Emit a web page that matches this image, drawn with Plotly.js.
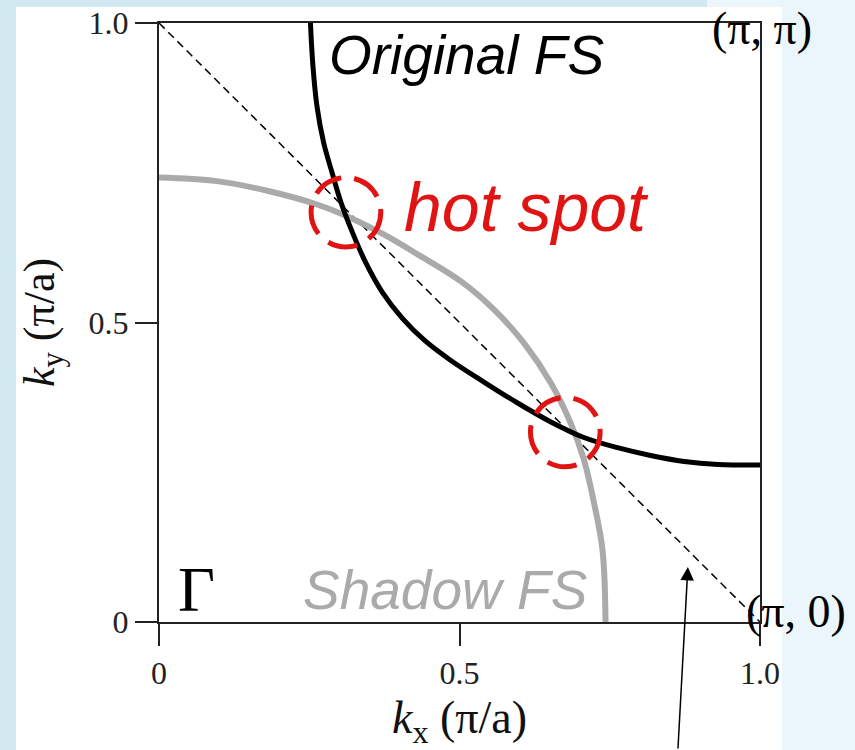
<!DOCTYPE html>
<html>
<head>
<meta charset="utf-8">
<script src="https://cdn.plot.ly/plotly-3.0.1.min.js"></script>
<style>
  html, body { margin: 0; padding: 0; width: 855px; height: 750px; overflow: hidden; background: rgb(235,245,252); }
  .bg { position: absolute; }
  #chart { position: absolute; left: 0; top: 0; width: 855px; height: 750px; }
</style>
</head>
<body>
<div class="bg" style="left:0;top:0;width:707px;height:7px;background:rgb(210,233,241);"></div>
<div class="bg" style="left:0;top:0;width:16px;height:750px;background:rgb(210,233,241);"></div>
<div class="bg" style="left:16px;top:7px;width:766px;height:743px;background:#ffffff;"></div>
<div id="chart"></div>
<script>
// Original Fermi surface (black)
const origKx = [0.252, 0.256, 0.263, 0.274, 0.288, 0.303, 0.322, 0.344, 0.372, 0.405, 0.442, 0.485, 0.540, 0.596, 0.652, 0.707, 0.763, 0.818, 0.874, 0.930, 1.0];
const origKy = [1.0, 0.93, 0.86, 0.80, 0.75, 0.70, 0.65, 0.60, 0.55, 0.507, 0.470, 0.437, 0.401, 0.366, 0.334, 0.308, 0.291, 0.278, 0.268, 0.263, 0.262];
// Shadow Fermi surface (grey)
const shadowKx = [0.0, 0.096, 0.18, 0.263, 0.318, 0.374, 0.43, 0.502, 0.557, 0.607, 0.652, 0.685, 0.707, 0.724, 0.738, 0.743];
const shadowKy = [0.742, 0.736, 0.72, 0.697, 0.675, 0.647, 0.614, 0.569, 0.522, 0.466, 0.399, 0.332, 0.271, 0.198, 0.120, 0.0];
// Antiferromagnetic zone boundary (dashed)
const zoneKx = [0, 1];
const zoneKy = [1, 0];
// Hot spots
const hotKx = [0.311, 0.676];
const hotKy = [0.684, 0.317];
const hotR = 0.058;
// Ticks
const tickVals = [0, 0.5, 1.0];
const tickText = ['0', '0.5', '1.0'];

const traces = [
  { x: zoneKx, y: zoneKy, mode: 'lines', line: { color: '#000', width: 1.5, dash: '8px,5px' }, hoverinfo: 'skip' },
  { x: shadowKx, y: shadowKy, mode: 'lines', line: { color: '#aaaaaa', width: 6, shape: 'spline', smoothing: 1 }, hoverinfo: 'skip' },
  { x: origKx, y: origKy, mode: 'lines', line: { color: '#000', width: 5, shape: 'spline', smoothing: 1 }, hoverinfo: 'skip' }
];

const shapes = hotKx.map((cx, i) => ({
  type: 'circle', xref: 'x', yref: 'y',
  x0: cx - hotR, x1: cx + hotR, y0: hotKy[i] - hotR, y1: hotKy[i] + hotR,
  line: { color: 'rgb(225,20,20)', width: 5, dash: '30px,13px' }, layer: 'above'
}));

const sans = 'Liberation Sans, Arial, sans-serif';
const serif = 'Liberation Serif, Times New Roman, serif';

const annotations = [
  { x: 0.28, y: 0.946, xref: 'x', yref: 'y', text: '<i>Original FS</i>', showarrow: false, xanchor: 'left', yanchor: 'middle', font: { family: sans, size: 55, color: '#000' } },
  { x: 0.405, y: 0.692, xref: 'x', yref: 'y', text: '<i>hot spot</i>', showarrow: false, xanchor: 'left', yanchor: 'middle', font: { family: sans, size: 68, color: 'rgb(225,20,20)' } },
  { x: 0.237, y: 0.053, xref: 'x', yref: 'y', text: '<i>Shadow FS</i>', showarrow: false, xanchor: 'left', yanchor: 'middle', font: { family: sans, size: 55, color: '#aaaaaa' } },
  { x: 0.062, y: 0.055, xref: 'x', yref: 'y', text: 'Γ', showarrow: false, xanchor: 'center', yanchor: 'middle', font: { family: serif, size: 64, color: '#000' } },
  { x: 1.003, y: 0.99, xref: 'paper', yref: 'paper', text: '(π, π)', showarrow: false, xanchor: 'center', yanchor: 'middle', font: { family: serif, size: 46, color: '#000' } },
  { x: 1.06, y: 0.017, xref: 'paper', yref: 'paper', text: '(π, 0)', showarrow: false, xanchor: 'center', yanchor: 'middle', font: { family: serif, size: 46, color: '#000' } },
  { x: 0.88, y: 0.092, xref: 'x', yref: 'y', text: '', showarrow: true, ax: -10, ay: 190, arrowhead: 2, arrowsize: 1.8, arrowwidth: 1.5, arrowcolor: '#000', standoff: 0 }
];

const axisCommon = {
  range: [0, 1], showgrid: false, zeroline: false,
  showline: true, linecolor: '#222', linewidth: 2, mirror: true,
  ticks: 'outside', ticklen: 22, tickwidth: 2, tickcolor: '#222',
  tickvals: tickVals, ticktext: tickText,
  tickfont: { family: serif, size: 32, color: '#222' }
};

const layout = {
  width: 855, height: 750,
  margin: { l: 159, r: 95, t: 23, b: 128 },
  paper_bgcolor: 'rgba(0,0,0,0)', plot_bgcolor: 'rgba(0,0,0,0)',
  showlegend: false,
  xaxis: Object.assign({}, axisCommon, {
    title: { text: '<i>k</i><sub>x</sub> (π/a)', font: { family: serif, size: 46, color: '#111' }, standoff: 14 }
  }),
  yaxis: Object.assign({}, axisCommon, {
    title: { text: '<i>k</i><sub>y</sub> (π/a)', font: { family: serif, size: 44, color: '#111' }, standoff: 20 }
  }),
  shapes: shapes,
  annotations: annotations
};

Plotly.newPlot('chart', traces, layout, { staticPlot: true, displayModeBar: false });
</script>
</body>
</html>
